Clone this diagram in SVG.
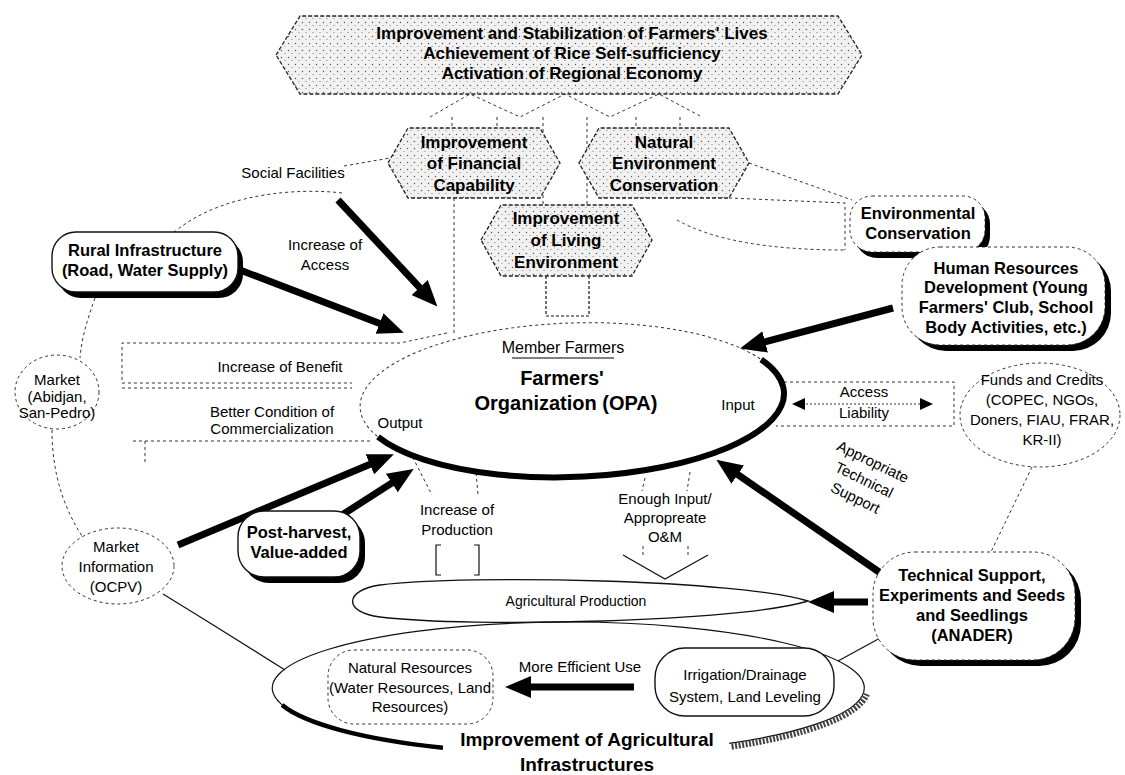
<svg xmlns="http://www.w3.org/2000/svg" width="1125" height="775" viewBox="0 0 1125 775">
<defs>
  <pattern id="stip" width="7" height="7" patternUnits="userSpaceOnUse">
    <rect width="7" height="7" fill="#f1f1f1"/>
    <circle cx="1.5" cy="1.5" r="0.7" fill="#555"/>
    <circle cx="5" cy="4.5" r="0.6" fill="#777"/>
  </pattern>
  <marker id="ah" markerUnits="userSpaceOnUse" markerWidth="26" markerHeight="22" refX="10" refY="11" orient="auto" viewBox="0 0 26 22">
    <path d="M0,0 L26,11 L0,22 z" fill="#000"/>
  </marker>
</defs>
<style>
  text { font-family: "Liberation Sans", Arial, sans-serif; fill: #000; text-anchor: middle; }
  .n { font-size: 15px; }
  .s { font-size: 14px; }
  .bl { font-size: 16.5px; font-weight: bold; }
  .hx { font-size: 17px; font-weight: bold; }
  .big { font-size: 20px; font-weight: bold; }
  .hex { fill: url(#stip); stroke: #222; stroke-width: 1.3; stroke-dasharray: 4 2; }
  .dash { fill: none; stroke: #333; stroke-width: 1; stroke-dasharray: 3 3; }
  .thin { fill: none; stroke: #111; stroke-width: 1.2; }
  .arr { fill: none; stroke: #000; stroke-width: 7; marker-end: url(#ah); }
  .shadow { fill: #000; }
  .box { fill: #fff; stroke: #111; stroke-width: 1.4; }
  .dbox { fill: #fff; stroke: #333; stroke-width: 1; stroke-dasharray: 3 3; }
</style>

<g id="connectors">
  <polyline class="dash" points="430,117 470,94 520,117 565,94 610,117 659,94 702,117"/>
  <path class="dash" d="M452,117 V128 M497,117 V128 M636,117 V128 M680,117 V128 M543,117 V205 M587,117 V205"/>
  <path class="dash" d="M454,198 V336"/>
  <path class="thin" d="M546,276 V316 H589 V276" stroke-dasharray="3 2"/>
  <path class="dash" d="M344,166 L390,158"/>
  <path class="dash" d="M342,193 C300,188 220,192 172,234"/>
  <path class="dash" d="M95,298 C88,318 82,335 80,358"/>
  <path class="dash" d="M52,430 C52,470 62,505 82,536"/>
  <path class="thin" d="M163,594 Q225,632 285,670"/>
  <path class="dash" d="M447,333 L400,343 H122 V383 H352 M122,388 H352"/>
  <path class="dash" d="M133,441 H372 M145,441 V464"/>
  <path class="dash" d="M749,163 L852,200"/>
  <path class="dash" d="M729,198 L845,203 V250 M677,220 Q730,250 845,250"/>
  <path class="dash" d="M410,452 L432,495 M476,473 L478,494"/>
  <path class="thin" d="M441,545 H436 V575 H441 M474,545 H479 V575 H474"/>
  <path class="dash" d="M645,478 L642,491 M690,472 L687,491"/>
  <path class="dash" d="M643,546 V556 M688,546 V556"/>
  <path class="thin" d="M623,555 L665,579 L708,555"/>
  <path class="dash" d="M1032,467 L990,554"/>
  <path class="thin" d="M882,637 L838,661"/>
  <path class="dash" d="M778,382 H954 V426 H776"/>
  <path fill="none" stroke="#333" stroke-width="1" stroke-dasharray="2 2" d="M806,404 H920"/>
  <polygon points="792,404 805,398 805,410" fill="#000"/>
  <polygon points="933,404 920,398 920,410" fill="#000"/>
  <path class="arr" d="M338,200 L426.5,294.8"/>
  <path class="arr" d="M240,270 L388.9,327"/>
  <path class="arr" stroke-width="6" d="M893,308 L755.5,344.4"/>
  <path class="arr" d="M882,574 L729.5,468.9"/>
  <path class="arr" stroke-width="6" d="M868,602 L824,602"/>
  <path class="arr" d="M178,545 L379.1,460.4"/>
  <path class="arr" d="M342,515 L400.2,477.6"/>
  <path class="arr" stroke-width="5" d="M634,687 L521,687"/>
</g>

<g id="goal">
  <polygon class="hex" points="276,55 300,16 838,16 862,55 838,94 300,94"/>
  <text class="hx" x="572" y="39">Improvement and Stabilization of Farmers' Lives</text>
  <text class="hx" x="572" y="59">Achievement of Rice Self-sufficiency</text>
  <text class="hx" x="572" y="79">Activation of Regional Economy</text>
</g>

<g id="financial">
  <polygon class="hex" points="388,163 408,128 540,128 560,163 540,198 408,198"/>
  <text class="hx" x="474" y="148">Improvement</text>
  <text class="hx" x="474" y="169">of Financial</text>
  <text class="hx" x="474" y="191">Capability</text>
</g>

<g id="natural-env">
  <polygon class="hex" points="579,163 599,128 729,128 749,163 729,198 599,198"/>
  <text class="hx" x="664" y="148">Natural</text>
  <text class="hx" x="664" y="169">Environment</text>
  <text class="hx" x="664" y="191">Conservation</text>
</g>

<g id="living-env">
  <polygon class="hex" points="481,240 501,205 632,205 652,240 632,276 501,276"/>
  <text class="hx" x="566" y="224">Improvement</text>
  <text class="hx" x="566" y="246">of Living</text>
  <text class="hx" x="566" y="268">Environment</text>
</g>

<g id="social-facilities">
  <text class="n" x="293" y="178">Social Facilities</text>
</g>

<g id="increase-access">
  <text class="n" x="325" y="250">Increase of</text>
  <text class="n" x="325" y="270">Access</text>
</g>

<g id="rural-infra">
  <rect class="shadow" x="57" y="238" width="186" height="60" rx="24"/>
  <rect class="box" x="52" y="232" width="186" height="60" rx="24"/>
  <text class="bl" x="145" y="256">Rural Infrastructure</text>
  <text class="bl" x="145" y="276">(Road, Water Supply)</text>
</g>

<g id="market">
  <ellipse class="dbox" cx="57" cy="392" rx="42" ry="37"/>
  <text class="n" x="57" y="385">Market</text>
  <text class="n" x="57" y="402">(Abidjan,</text>
  <text class="n" x="57" y="418">San-Pedro)</text>
</g>

<g id="benefit">
  <text class="n" x="280" y="372">Increase of Benefit</text>
  <text class="n" x="272" y="417">Better Condition of</text>
  <text class="n" x="272" y="434">Commercialization</text>
</g>

<g id="market-info">
  <ellipse class="dbox" cx="118" cy="566" rx="56" ry="38"/>
  <text class="n" x="116" y="552">Market</text>
  <text class="n" x="116" y="572">Information</text>
  <text class="n" x="116" y="592">(OCPV)</text>
</g>

<g id="post-harvest">
  <rect class="shadow" x="243" y="517" width="122" height="66" rx="26"/>
  <rect class="box" x="238" y="511" width="122" height="66" rx="26"/>
  <text class="bl" x="299" y="538">Post-harvest,</text>
  <text class="bl" x="299" y="558">Value-added</text>
</g>

<g id="opa">
  <g transform="rotate(-2 572 400)">
    <ellipse cx="572" cy="400" rx="212" ry="77" fill="none" stroke="#333" stroke-width="1" stroke-dasharray="3 3"/>
    <path d="M376.9,430.1 A212,77 0 1 0 762.5,366.2" fill="none" stroke="#000" stroke-width="6"/>
  </g>
  <text x="563" y="353" style="font-size:16px">Member Farmers</text>
  <line x1="512" y1="358" x2="614" y2="358" stroke="#000" stroke-width="1.2"/>
  <text class="big" x="562" y="385">Farmers'</text>
  <text class="big" x="566" y="410">Organization (OPA)</text>
  <text class="n" x="400" y="428">Output</text>
  <text class="n" x="738" y="410">Input</text>
</g>

<g id="access-liability">
  <text class="n" x="864" y="397">Access</text>
  <text class="n" x="864" y="418">Liability</text>
</g>

<g id="increase-production">
  <text class="n" x="457" y="515">Increase of</text>
  <text class="n" x="457" y="535">Production</text>
</g>

<g id="enough-input">
  <text class="n" x="665" y="504">Enough Input/</text>
  <text class="n" x="665" y="523">Appropreate</text>
  <text class="n" x="665" y="542">O&amp;M</text>
</g>

<g id="appropriate-support">
  <g transform="translate(864,480) rotate(26)">
    <text class="n" x="0" y="-15">Appropriate</text>
    <text class="n" x="0" y="5">Technical</text>
    <text class="n" x="0" y="25">Support</text>
  </g>
</g>

<g id="agri-production">
  <path d="M808,601 C740,580 470,574 380,585 C345,590 342,612 380,617 C470,628 740,622 808,601 Z" fill="none" stroke="#111" stroke-width="1.4"/>
  <text class="s" x="576" y="606">Agricultural Production</text>
</g>

<g id="agri-infra">
  <path class="thin" d="M442.9,747.8 A296,66 0 1 1 729.2,743.4"/>
  <path d="M282.1,705.1 A296,66 0 0 0 442.9,747.8" fill="none" stroke="#000" stroke-width="4.5"/>
  <path d="M866.9,694.1 A300,70 0 0 1 731.4,746.7" fill="none" stroke="#444" stroke-width="6" stroke-dasharray="2 1.5"/>
  <text x="587" y="746" style="font-size:19px;font-weight:bold">Improvement of Agricultural</text>
  <text x="587" y="771" style="font-size:19px;font-weight:bold">Infrastructures</text>
</g>

<g id="natural-resources">
  <rect class="dbox" x="328" y="650" width="165" height="74" rx="26"/>
  <text class="n" x="410" y="673">Natural Resources</text>
  <text class="n" x="410" y="693">(Water Resources, Land</text>
  <text class="n" x="410" y="712">Resources)</text>
</g>

<g id="efficient-use">
  <text class="n" x="580" y="672">More Efficient Use</text>
</g>

<g id="irrigation">
  <rect class="box" x="655" y="648" width="179" height="68" rx="30" stroke-width="1.2"/>
  <text class="n" x="745" y="680">Irrigation/Drainage</text>
  <text class="n" x="745" y="702">System, Land Leveling</text>
</g>

<g id="env-conservation">
  <rect class="shadow" x="855" y="202" width="135" height="56" rx="22"/>
  <rect class="dbox" x="850" y="196" width="135" height="56" rx="22"/>
  <text class="bl" x="918" y="219">Environmental</text>
  <text class="bl" x="918" y="239">Conservation</text>
</g>

<g id="human-resources">
  <rect class="shadow" x="908" y="253" width="203" height="98" rx="38"/>
  <rect class="dbox" x="902" y="247" width="203" height="98" rx="38"/>
  <text class="bl" x="1006" y="274">Human Resources</text>
  <text class="bl" x="1006" y="293">Development (Young</text>
  <text class="bl" x="1006" y="313">Farmers' Club, School</text>
  <text class="bl" x="1006" y="333">Body Activities, etc.)</text>
</g>

<g id="funds">
  <ellipse class="dbox" cx="1040" cy="415" rx="80" ry="52"/>
  <text class="n" x="1042" y="385">Funds and Credits</text>
  <text class="n" x="1042" y="405">(COPEC, NGOs,</text>
  <text class="n" x="1042" y="425">Doners, FIAU, FRAR,</text>
  <text class="n" x="1042" y="445">KR-II)</text>
</g>

<g id="technical-support">
  <rect class="shadow" x="879" y="558" width="202" height="108" rx="42"/>
  <rect class="dbox" x="873" y="552" width="202" height="108" rx="42"/>
  <text class="bl" x="972" y="581">Technical Support,</text>
  <text class="bl" x="972" y="601">Experiments and Seeds</text>
  <text class="bl" x="972" y="621">and Seedlings</text>
  <text class="bl" x="972" y="641">(ANADER)</text>
</g>
</svg>
